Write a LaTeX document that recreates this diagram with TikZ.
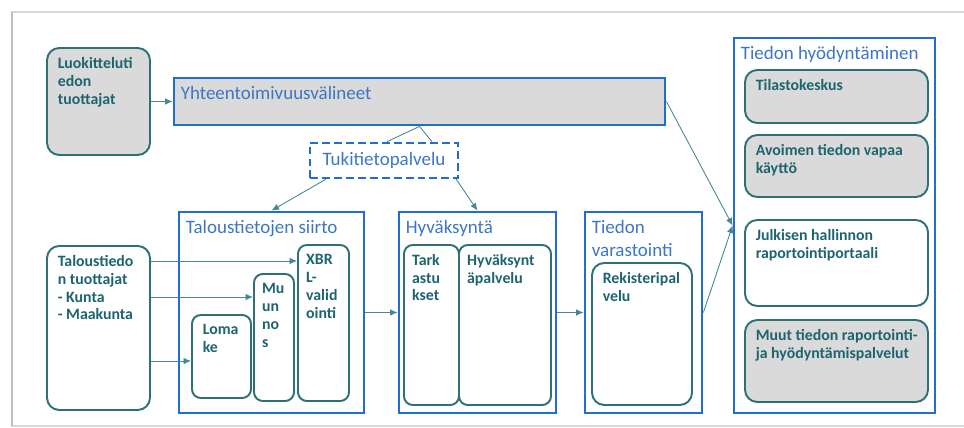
\documentclass[tikz,border=0pt]{standalone}
\usepackage{fontspec}
\setmainfont{Carlito}
\usetikzlibrary{positioning,arrows.meta,calc,fit}
\definecolor{frameblue}{RGB}{33,110,208}
\definecolor{boxteal}{RGB}{45,112,118}
\definecolor{txtteal}{RGB}{30,100,110}
\definecolor{txtblue}{RGB}{60,118,200}
\definecolor{fillgray}{RGB}{218,218,218}
\definecolor{linkteal}{RGB}{70,135,145}

\begin{document}
\begin{tikzpicture}[
    x=0.02cm, y=-0.02cm,
    group/.style={draw=frameblue, line width=1.6pt, inner sep=0pt},
    unit/.style={draw=boxteal, line width=1.1pt, rounded corners=7pt, inner sep=0pt},
    subunit/.style={draw=boxteal, line width=1.1pt, rounded corners=5pt, inner sep=0pt},
    support/.style={draw=frameblue, line width=1.5pt, dash pattern=on 4.5pt off 2.3pt,
                    minimum width=2.96cm, minimum height=0.7cm, inner sep=0pt,
                    font=\fontsize{10.8}{13}\selectfont, text=txtblue},
    grey/.style={fill=fillgray},
    heading/.style={anchor=north west, font=\fontsize{10.8}{13}\selectfont, text=txtblue,
                    align=left, inner xsep=4.5pt, inner ysep=5.5pt},
    unittext/.style={anchor=north west, font=\bfseries\fontsize{9}{10.2}\selectfont, text=txtteal,
                     align=left, inner xsep=6.5pt, inner ysep=5.5pt},
    link/.style={draw=linkteal, line width=0.5pt},
    arrow/.style={link, -{Latex[length=1.5mm, width=1.3mm]}},
]
\useasboundingbox (0,0) rectangle (964,428);
% page frame
\draw[gray!30, line width=0.8pt] (964,12) -- (12,12) -- (12,426) -- (964,426);
\draw[gray!50, line width=1.4pt] (12,12) -- (12,426);

% Top row
\node[unit, grey, fit={(47,48) (150,155)},
      label={[unittext]north west:Luokitteluti\\edon\\tuottajat}] (luok) {};
\node[group, grey, fit={(174,78) (665,125)},
      label={[heading]north west:Yhteentoimivuusvälineet}] (yht) {};
\node[support] (tuki) at (384,160.5) {Tukitietopalvelu};

% Transfer
\node[unit, fit={(47,246) (150,410)},
      label={[unittext]north west:Taloustiedo\\n tuottajat\\- Kunta\\- Maakunta}] (tuot) {};
\node[group, fit={(179,212) (364,413)},
      label={[heading]north west:Taloustietojen siirto}] (siirto) {};
\node[subunit, fit={(192,315) (251,398)},
      label={[unittext]north west:Loma\\ke}] (lomake) {};
\node[subunit, fit={(254,274) (294,401)},
      label={[unittext, inner xsep=5pt]north west:Mu\\un\\no\\s}] (muunnos) {};
\node[subunit, fit={(298,245) (349,401)},
      label={[unittext, inner xsep=5pt]north west:XBR\\L-\\valid\\ointi}] (xbrl) {};

% Approval
\node[group, fit={(399,212) (556,413)},
      label={[heading]north west:Hyväksyntä}] (hyv) {};
\node[subunit, fit={(404,245) (459,405)},
      label={[unittext, inner xsep=5pt]north west:Tark\\astu\\kset}] (tark) {};
\node[subunit, fit={(459,245) (551,405)},
      label={[unittext, inner xsep=5pt]north west:Hyväksynt\\äpalvelu}] (hpalvelu) {};

% Storage
\node[group, fit={(585,212) (702,413)},
      label={[heading]north west:Tiedon\\varastointi}] (varasto) {};
\node[unit, fit={(592,263) (692,405)},
      label={[unittext]north west:Rekisteripal\\velu}] (rekisteri) {};

% Use of data
\node[group, fit={(734,38) (935,413)},
      label={[heading]north west:Tiedon hyödyntäminen}] (hyod) {};
\node[unit, grey, fit={(745,70) (928,123)},
      label={[unittext]north west:Tilastokeskus}] (tilasto) {};
\node[unit, grey, fit={(745,135) (928,197)},
      label={[unittext]north west:Avoimen tiedon vapaa\\käyttö}] (avoin) {};
\node[unit, fit={(745,220) (928,306)},
      label={[unittext]north west:Julkisen hallinnon\\raportointiportaali}] (julkinen) {};
\node[unit, grey, fit={(745,320) (928,402)},
      label={[unittext]north west:Muut tiedon raportointi-\\ja hyödyntämispalvelut}] (muut) {};

% Connectors
\draw[arrow] (luok.east) -- (luok.east -| yht.west);
\draw[link] (yht.south) -- ($(tuki.north)+(3,0)$);
\draw[link] (yht.south) -- ($(tuki.north)+(48,0)$);
\draw[arrow] ($(tuki.south west)+(17,0)$) -- (siirto.north);
\draw[arrow] ($(tuki.south east)+(-3,0)$) -- (hyv.north);
\draw[arrow] ($(tuot.north east)+(0,16)$) coordinate (t1) -- (t1 -| xbrl.west);
\draw[arrow] ($(tuot.north east)+(0,52)$) coordinate (t2) -- (t2 -| muunnos.west);
\draw[arrow] ($(tuot.north east)+(0,116)$) coordinate (t3) -- (t3 -| lomake.west);
\draw[arrow] (siirto.east) -- (hyv.west);
\draw[arrow] (hyv.east) -- (varasto.west);
\draw[arrow] (yht.east) -- (hyod.west);
\draw[arrow] (varasto.east) -- (hyod.west);

\end{tikzpicture}
\end{document}
